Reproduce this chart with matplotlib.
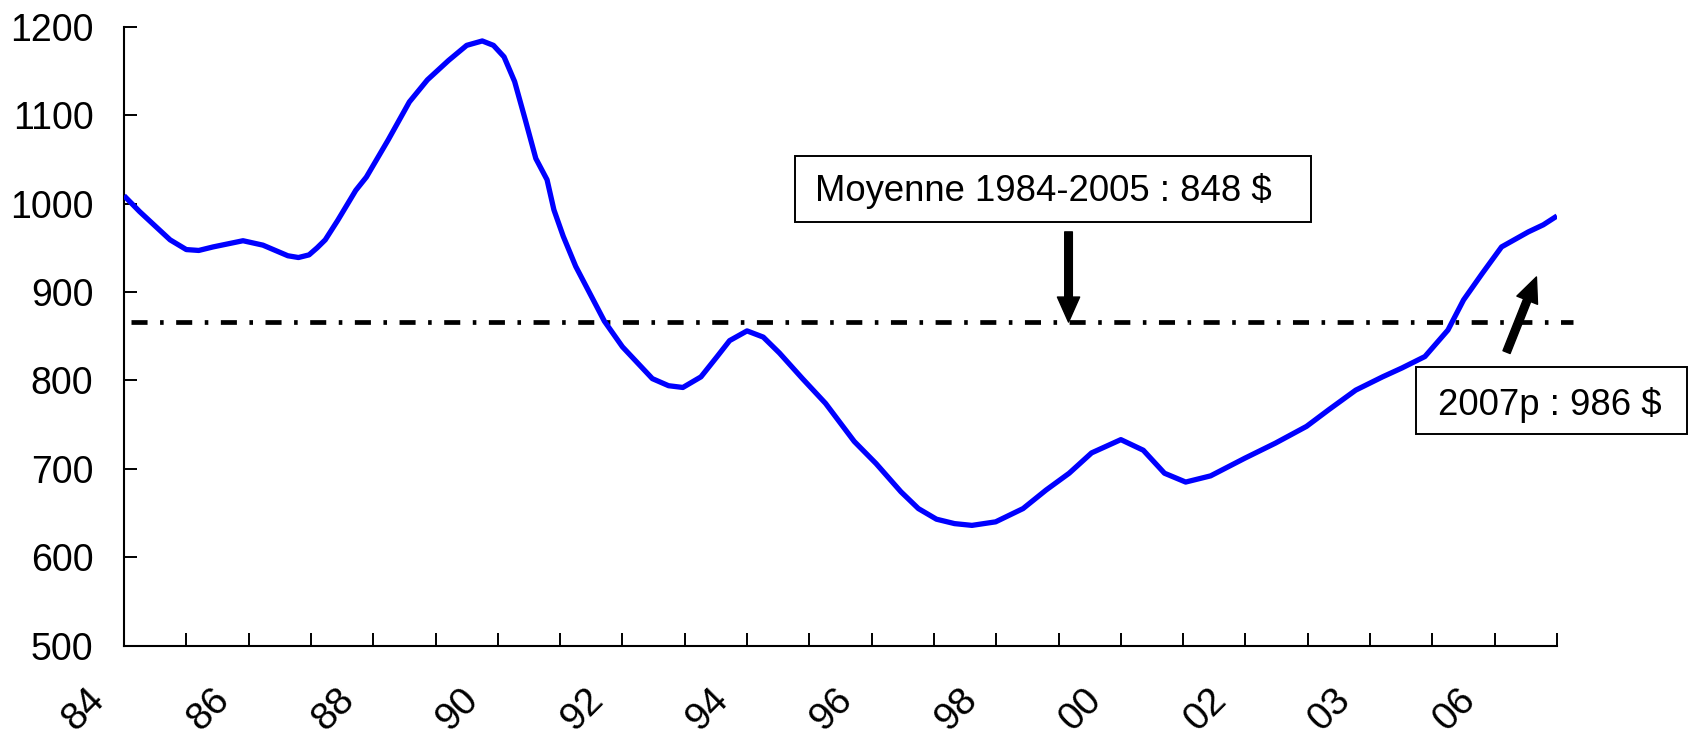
import matplotlib
matplotlib.use('Agg')
from matplotlib import pyplot as plt
import matplotlib.patches as patches
import matplotlib.transforms as mtransforms

# series (decimal year, value in $)
years = [1984.00, 1984.25, 1984.51, 1984.74, 1985.00, 1985.20, 1985.43, 1985.91,
         1986.23, 1986.63, 1986.80, 1986.97, 1987.10, 1987.23, 1987.43, 1987.72,
         1987.89, 1988.24, 1988.58, 1988.87, 1989.21, 1989.50, 1989.75, 1989.93,
         1990.10, 1990.27, 1990.44, 1990.61, 1990.79, 1990.90, 1991.05, 1991.25,
         1991.71, 1992.00, 1992.48, 1992.74, 1992.97, 1993.26, 1993.52, 1993.72,
         1994.00, 1994.26, 1994.52, 1994.89, 1995.26, 1995.72, 1996.07, 1996.47,
         1996.75, 1997.04, 1997.33, 1997.61, 1997.99, 1998.43, 1998.80, 1999.17,
         1999.53, 2000.00, 2000.36, 2000.70, 2001.04, 2001.44, 2001.99, 2002.48,
         2002.98, 2003.34, 2003.77, 2004.20, 2004.51, 2004.88, 2005.25, 2005.50,
         2005.80, 2006.11, 2006.54, 2006.78, 2007.00]
values = [1009, 991, 974, 959, 948, 947, 951, 958,
          953, 941, 939, 942, 950, 959, 981, 1015,
          1030, 1072, 1115, 1140, 1162, 1179, 1184, 1179,
          1166, 1138, 1095, 1051, 1027, 993, 963, 929,
          867, 838, 802, 794, 792, 804, 827, 845,
          856, 849, 831, 802, 774, 731, 706, 674,
          655, 643, 638, 636, 640, 655, 676, 695,
          718, 733, 721, 695, 685, 692, 712, 729,
          748, 767, 789, 804, 814, 827, 857, 891,
          921, 951, 968, 976, 986]

mean_value = 866
tick_years = list(range(1984, 2008))
tick_labels = ['84', '86', '88', '90', '92', '94', '96', '98', '00', '02', '03', '06']
y_ticks = [500, 600, 700, 800, 900, 1000, 1100, 1200]

mean_text = 'Moyenne 1984-2005 : 848 $'
last_text = '2007p : 986 $'

W, H = 1690, 738


def px(x, y):
    # full-size pixel position (top-left origin) -> figure fraction
    return x / W, 1 - y / H


plt.rcParams['font.family'] = ['Liberation Sans', 'DejaVu Sans']

fig = plt.figure(figsize=(W / 100, H / 100), dpi=100)
ax = fig.add_axes([124 / W, 1 - 645.6 / H, (1557 - 124) / W, (645.6 - 26.8) / H])

ax.plot(years, values, color='#0000ff', lw=3.8, solid_capstyle='butt',
        solid_joinstyle='round', zorder=3)
ax.plot([1984.12, 2007.25], [mean_value, mean_value], color='black', lw=3.4,
        linestyle=(0, (3.4, 2.65, 0.76, 2.65)), clip_on=False, zorder=2)

ax.set_xlim(1984, 2007)
ax.set_ylim(500, 1200)
for s in ['top', 'right']:
    ax.spines[s].set_visible(False)
for s in ['left', 'bottom']:
    ax.spines[s].set_linewidth(1.5)

ax.set_yticks(y_ticks)
ax.set_yticklabels([str(v) for v in y_ticks])
ax.set_xticks(tick_years)
full_labels = []
for i, y in enumerate(tick_years):
    full_labels.append(tick_labels[i // 2] if i % 2 == 0 else '')
ax.set_xticklabels(full_labels, rotation=45, ha='center', va='center',
                   rotation_mode='anchor')
ax.tick_params(axis='both', direction='in', length=9.4, width=1.4, labelsize=27)
ax.tick_params(axis='y', pad=22)
ax.tick_params(axis='x', pad=46, labelsize=28)

shift = mtransforms.ScaledTranslation(-40 / 100, 0, fig.dpi_scale_trans)
for lab in ax.get_xticklabels():
    lab.set_transform(lab.get_transform() + shift)

# annotation arrows
arrow_kw = dict(facecolor='black', edgecolor='black', width=5.5, headwidth=16,
                headlength=18, shrink=0)
ax.annotate('', xy=(1999.16, mean_value), xytext=(1999.16, 968),
            arrowprops=arrow_kw, annotation_clip=False)
ax.annotate('', xy=(2006.67, 917), xytext=(2006.19, 832),
            arrowprops=arrow_kw, annotation_clip=False)

# label boxes
x0, y0 = px(795, 222)
x1, y1 = px(1311, 156)
fig.patches.append(patches.Rectangle((x0, y0), x1 - x0, y1 - y0, fill=False,
                                     lw=1.4, ec='black', transform=fig.transFigure))
fig.text(*px(815, 201), mean_text, fontsize=26.3, ha='left', va='baseline')

x0, y0 = px(1416, 434)
x1, y1 = px(1687, 367)
fig.patches.append(patches.Rectangle((x0, y0), x1 - x0, y1 - y0, fill=False,
                                     lw=1.4, ec='black', transform=fig.transFigure))
fig.text(*px(1438, 415), last_text, fontsize=26.3, ha='left', va='baseline')

fig.savefig('out.png', dpi=100)
